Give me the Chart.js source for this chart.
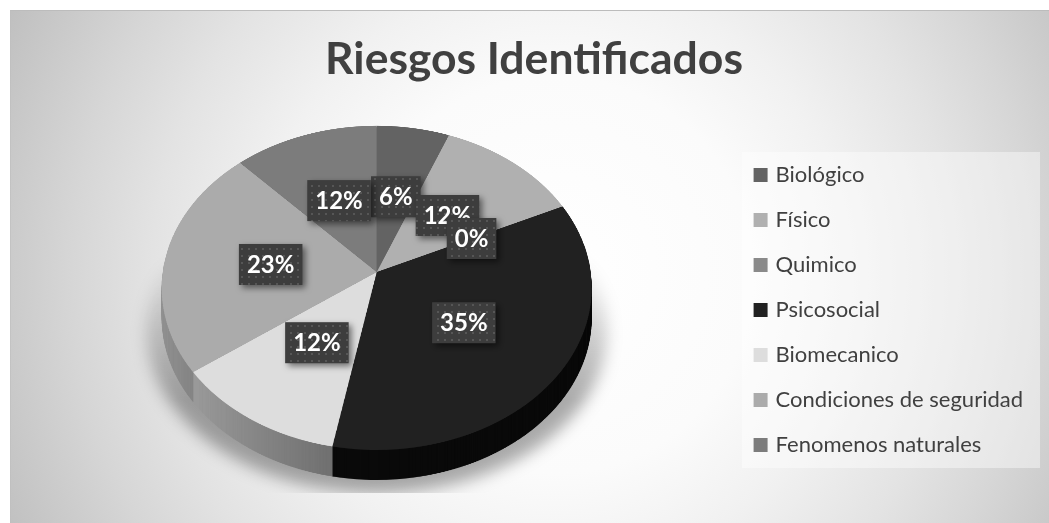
<!DOCTYPE html>
<html><head><meta charset="utf-8">
<style>html,body{margin:0;padding:0;background:#fff}canvas{display:block}</style>
<script src="https://cdn.jsdelivr.net/npm/chart.js@4"></script>
</head><body><canvas id="c" width="1049" height="523"></canvas>
<script>
const categories=["Biológico","Físico","Quimico","Psicosocial","Biomecanico","Condiciones de seguridad","Fenomenos naturales"];
const values=[6,12,0,35,12,23,12];
const topColors=["#636363","#b0b0b0","#8a8a8a","#212121","#dddddd","#ababab","#7c7c7c"];
const sideColors=["#444444","#666666","#555555","#0a0a0a","#888888","#858585","#555555"];
const titleText="Riesgos Identificados";

// perspective of the tilted pie
const P={cx:376.7,C:214,B:272,A:134,k:-0.0977,depth:30};
const project=(u,v)=>({x:P.cx+P.C*u/(1+P.k*v),y:(P.A*v+P.B)/(1+P.k*v)});

function renderArcs(arcs,colors,W,H,SS){
  const off=document.createElement('canvas');off.width=W*SS;off.height=H*SS;
  const o=off.getContext('2d');o.scale(SS,SS);
  arcs.forEach((a,i)=>{
    const saved=a.options;
    a.options=Object.assign({},saved,{backgroundColor:colors(i,o,a),borderWidth:0});
    a.draw(o);a.options=saved;
  });
  return off;
}
function warp(src,a,W,H,SS){
  const out=document.createElement('canvas');out.width=W;out.height=H;
  const c=out.getContext('2d');const R=a.outerRadius;
  for(let y=100;y<480;y++){
    const v0=(y-P.B)/(P.A-P.k*y),v1=(y+1-P.B)/(P.A-P.k*(y+1));
    if(v1<-1.01||v0>1.01)continue;
    const s=P.C/(1+P.k*(v0+v1)/2)/R;
    c.drawImage(src,0,(a.y+v0*R)*SS,W*SS,(v1-v0)*R*SS,P.cx-a.x*s,y,W*s,1);
  }
  return out;
}
function drawLabels(chart){
  const arcs=chart.getDatasetMeta(0).data,g=chart.ctx,total=values.reduce((s,v)=>s+v,0);
  const tile=document.createElement('canvas');tile.width=7;tile.height=7;
  const t=tile.getContext('2d');t.fillStyle='#3d3d3d';t.fillRect(0,0,7,7);t.fillStyle='#565656';t.fillRect(3,3,2,2);
  const pat=g.createPattern(tile,'repeat');
  g.save();g.font='bold 24px Lato';g.textAlign='center';g.textBaseline='middle';
  arcs.forEach((a,i)=>{
    const m=(a.startAngle+a.endAngle)/2,p=project(.5*Math.cos(m),.5*Math.sin(m));
    const txt=Math.round(values[i]/total*100)+'%';
    const w=g.measureText(txt).width+16,h=41;
    g.save();g.shadowColor='rgba(0,0,0,.5)';g.shadowBlur=6;g.shadowOffsetX=3;g.shadowOffsetY=3;
    g.fillStyle=pat;g.fillRect(p.x-w/2,p.y-h/2,w,h);g.restore();
    g.fillStyle='#fff';g.fillText(txt,p.x,p.y+1);
  });
  g.restore();
}
const piePlugin={id:'tiltedPie',
  afterLayout(chart){chart.legend.top+=36;chart.legend.bottom+=36;},
  beforeDraw(chart){
    const g=chart.ctx;g.save();
    g.fillStyle='#fff';g.fillRect(0,0,1049,523);
    const rg=g.createRadialGradient(555,275,0,555,275,620);
    [[0,'#ffffff'],[.32,'#fbfbfb'],[.48,'#f1f1f1'],[.65,'#e3e3e3'],[.78,'#d6d6d6'],[1,'#bdbdbd']].forEach(s=>rg.addColorStop(s[0],s[1]));
    g.fillStyle=rg;g.fillRect(10,10,1039,513);
    g.fillStyle='#bcbcbc';g.fillRect(10,10,1039,1);
    g.fillStyle='rgba(190,190,190,.6)';g.fillRect(10,10,1,513);
    g.fillStyle='rgba(255,255,255,.42)';g.fillRect(742,152,298,316);
    g.restore();
  },
  beforeDatasetsDraw(chart){
    const arcs=chart.getDatasetMeta(0).data,g=chart.ctx,W=1049,H=523,SS=2;
    const a0=arcs[0];
    const side=(i,o,a)=>{
      if(i===4){const gr=o.createLinearGradient(a.x-a.outerRadius,0,a.x,0);gr.addColorStop(0,'#a8a8a8');gr.addColorStop(1,'#636363');return gr;}
      if(i===5){const gr=o.createLinearGradient(a.x-a.outerRadius,0,a.x-a.outerRadius*.7,0);gr.addColorStop(0,'#939393');gr.addColorStop(1,'#7d7d7d');return gr;}
      return sideColors[i];
    };
    const wSide=warp(renderArcs(arcs,side,W,H,SS),a0,W,H,SS);
    const wTop=warp(renderArcs(arcs,i=>topColors[i],W,H,SS),a0,W,H,SS);
    // soft shadow below the pie: widened silhouette, fading upward, cut at the bottom
    const sh=document.createElement('canvas');sh.width=W;sh.height=H;
    const sc=sh.getContext('2d');
    sc.filter='blur(8px)';
    sc.drawImage(wSide,P.cx-P.cx*1.07,P.depth+13,W*1.07,H);
    sc.filter='none';
    sc.globalCompositeOperation='source-in';
    const fade=sc.createLinearGradient(0,250,0,400);
    fade.addColorStop(0,'rgba(0,0,0,0)');fade.addColorStop(1,'rgba(0,0,0,.33)');
    sc.fillStyle=fade;sc.fillRect(0,0,W,H);
    g.save();g.beginPath();g.rect(0,0,W,493);g.clip();g.drawImage(sh,0,0);g.restore();
    for(let d=P.depth;d>=1;d--)g.drawImage(wSide,0,d);
    g.drawImage(wTop,0,0);
    drawLabels(chart);
    return false;
  }
};
new Chart(document.getElementById('c'),{
  type:'pie',
  data:{labels:categories,datasets:[{data:values,backgroundColor:topColors,borderWidth:0}]},
  options:{responsive:false,animation:false,
    layout:{padding:{left:35,right:16,top:33,bottom:8}},
    plugins:{
      tooltip:{enabled:false},
      title:{display:true,text:titleText,color:'#404040',font:{family:'Lato',weight:'bold',size:44.5},padding:{top:0,bottom:20}},
      legend:{position:'right',align:'center',labels:{boxWidth:8,boxHeight:8,padding:23,color:'#404040',font:{family:'Lato',size:22},
        generateLabels(chart){
          return Chart.overrides.pie.plugins.legend.labels.generateLabels(chart).map(l=>Object.assign(l,{strokeStyle:l.fillStyle,lineWidth:6,hidden:false}));
        }}}
    }},
  plugins:[piePlugin]
});
</script></body></html>
